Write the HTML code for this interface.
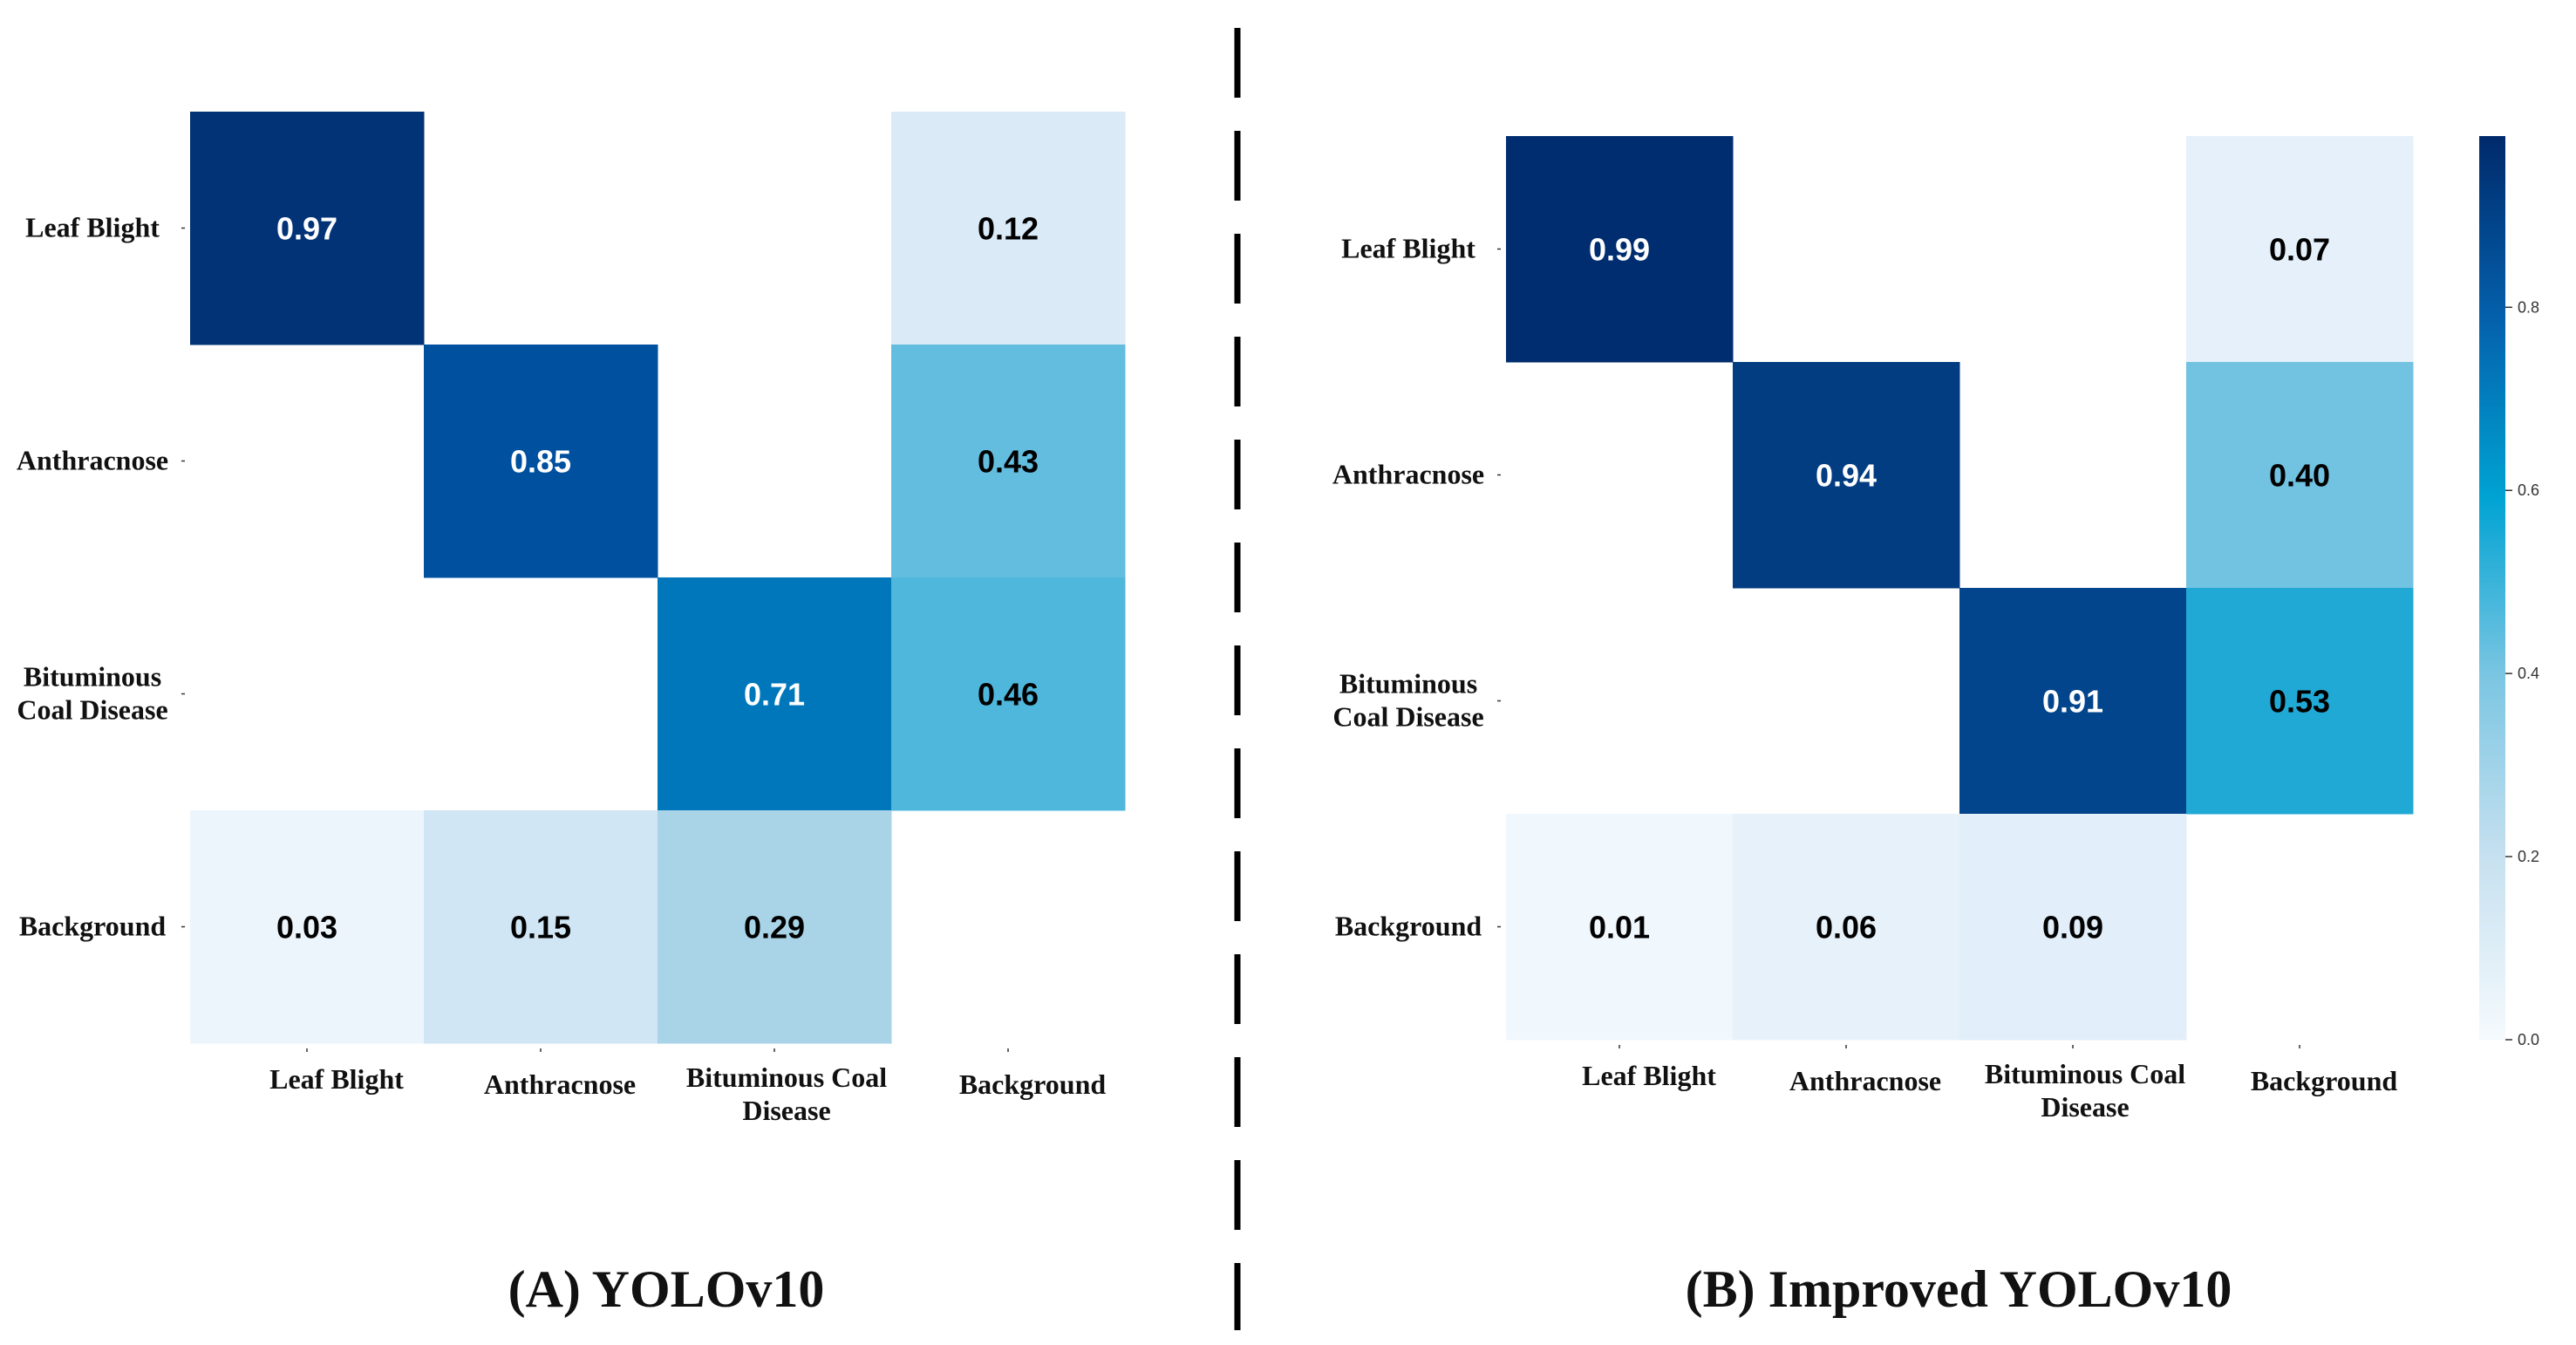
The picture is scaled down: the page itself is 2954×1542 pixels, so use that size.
<!DOCTYPE html>
<html><head><meta charset="utf-8"><style>
html,body{margin:0;padding:0;background:#fff;}
svg{display:block;}
.lab{font-family:"Liberation Serif",serif;font-weight:bold;font-size:32px;fill:#111;}
.val{font-family:"Liberation Sans","DejaVu Sans",sans-serif;font-weight:bold;font-size:36px;}
.ttl{font-family:"Liberation Serif",serif;font-weight:bold;font-size:60px;fill:#111;}
.cbt{font-family:"Liberation Sans",sans-serif;font-size:18px;fill:#333;}
</style></head><body>
<svg id="chart" width="2954" height="1542" viewBox="0 0 2954 1542" xmlns="http://www.w3.org/2000/svg">
<defs>
<linearGradient id="cbgrad" x1="0" y1="1" x2="0" y2="0">
<stop offset="0" stop-color="#f5fafd"/><stop offset="0.2" stop-color="#c7e1f0"/><stop offset="0.4" stop-color="#7cc6e2"/><stop offset="0.6" stop-color="#00a3d3"/><stop offset="0.8" stop-color="#0460ab"/><stop offset="1" stop-color="#002a6b"/>
</linearGradient>
</defs>
</svg>
<script>
const categories = ["Leaf Blight","Anthracnose","Bituminous Coal Disease","Background"];
const valuesA = [[0.97,0,0,0.12],[0,0.85,0,0.43],[0,0,0.71,0.46],[0.03,0.15,0.29,0]];
const valuesB = [[0.99,0,0,0.07],[0,0.94,0,0.40],[0,0,0.91,0.53],[0.01,0.06,0.09,0]];
const cbTicks = [0.0,0.2,0.4,0.6,0.8];
const cbMax = 0.987;

const NS="http://www.w3.org/2000/svg";
const svg=document.getElementById('chart');
function mk(tag,attrs,parent){const e=document.createElementNS(NS,tag);for(const k in attrs)e.setAttribute(k,attrs[k]);(parent||svg).appendChild(e);return e;}
const stops=[[0,[242,248,253]],[0.1,[224,237,248]],[0.15,[208,230,244]],[0.29,[169,212,232]],[0.43,[99,189,223]],[0.53,[33,169,213]],[0.71,[0,119,187]],[0.85,[0,80,160]],[0.91,[3,69,140]],[1,[0,42,107]]];
function cmap(v){for(let i=1;i<stops.length;i++){if(v<=stops[i][0]){const a=stops[i-1],b=stops[i];const t=(v-a[0])/(b[0]-a[0]);const c=a[1].map((x,j)=>Math.round(x+(b[1][j]-x)*t));return `rgb(${c})`;}}return 'rgb(0,42,107)';}

function panel(vals,box,name){
  const g=mk('g',{});
  
  
  const n=categories.length;
  const cw=(box.r-box.l)/n, ch=(box.b-box.t)/n;
  const xs=i=>box.l+i*cw, ys=i=>box.t+i*ch;
  vals.forEach((row,ri)=>row.forEach((v,ci)=>{
    if(v<=0)return;
    const r=mk('rect',{x:xs(ci),y:ys(ri),width:cw+0.5,height:ch+0.5,fill:cmap(v)},g);
    
    
    const t=mk('text',{x:xs(ci)+cw/2,y:ys(ri)+ch/2+13,'text-anchor':'middle',class:'val',fill:v>0.6?'#fff':'#000'},g);
    
    
    t.textContent=v.toFixed(2);
  }));
  categories.forEach((c,i)=>{
    const cy=ys(i)+ch/2;
    mk('line',{x1:box.l-10,x2:box.l-6,y1:cy,y2:cy,stroke:'#333','stroke-width':1.5},g);
    const lines=c==="Bituminous Coal Disease"?["Bituminous","Coal Disease"]:[c];
    lines.forEach((ln,k)=>{
      const t=mk('text',{x:box.l-112,y:cy+10+(k-(lines.length-1)/2)*38,'text-anchor':'middle',class:'lab'},g);
      
      
      t.textContent=ln;
    });
    const cx=xs(i)+cw/2;
    mk('line',{x1:cx,x2:cx,y1:box.b+6,y2:box.b+10,stroke:'#333','stroke-width':1.5},g);
    const xl=c==="Bituminous Coal Disease"?["Bituminous Coal","Disease"]:[c==="Leaf Blight"?"Leaf  Blight":c];
    const off=[34,22,14,28][i];
    xl.forEach((ln,k)=>{
      const t=mk('text',{x:cx+off,y:(xl.length>1?box.b+50+k*38:box.b+(i==0?52:58)),'text-anchor':'middle',class:'lab','xml:space':'preserve'},g);
      
      
      t.textContent=ln;
    });
  });
}
panel(valuesA,{l:218,r:1290,t:128,b:1196},'heatmap-yolov10');
panel(valuesB,{l:1727,r:2767,t:156,b:1192},'heatmap-improved-yolov10');

// colorbar
const cb={x:2843,w:30,t:156,b:1192};
const cbr=mk('rect',{x:cb.x,y:cb.t,width:cb.w,height:cb.b-cb.t,fill:'url(#cbgrad)'});


const cy=v=>cb.b-(v/cbMax)*(cb.b-cb.t);
cbTicks.forEach(v=>{
  mk('line',{x1:cb.x+cb.w,x2:cb.x+cb.w+8,y1:cy(v),y2:cy(v),stroke:'#333','stroke-width':1.5});
  const t=mk('text',{x:cb.x+cb.w+14,y:cy(v)+6,class:'cbt'});
  
  
  t.textContent=v.toFixed(1);
});

// divider
const dv=mk('line',{x1:1419,x2:1419,y1:32,y2:1525,stroke:'#000','stroke-width':7,'stroke-dasharray':'80 38'});



const tA=mk('text',{x:764,y:1498,'text-anchor':'middle',class:'ttl','xml:space':'preserve'});


tA.textContent='(A)  YOLOv10';
const tB=mk('text',{x:2246,y:1498,'text-anchor':'middle',class:'ttl','xml:space':'preserve'});


tB.textContent='(B)  Improved  YOLOv10';
</script>
</body></html>
